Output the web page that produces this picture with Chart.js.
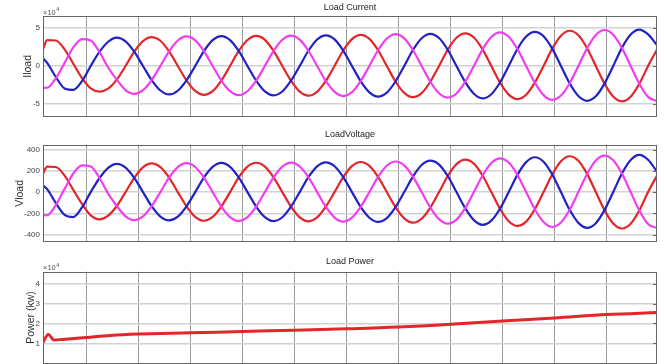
<!DOCTYPE html>
<html lang="es">
<head>
<meta charset="utf-8">
<title>Carga</title>
<script src="https://cdn.jsdelivr.net/npm/chart.js@4.4.1/dist/chart.umd.min.js"></script>
<style>
  html, body { margin: 0; padding: 0; background: #fff; }
  body { position: relative; width: 664px; height: 364px; overflow: hidden; }
  canvas { position: absolute; left: 0; }
</style>
</head>
<body>
<canvas id="graficaCorriente" width="664" height="122" style="top:0"></canvas>
<canvas id="graficaTension" width="664" height="124" style="top:122px"></canvas>
<canvas id="graficaPotencia" width="664" height="118" style="top:246px"></canvas>
<script>
// tiempo de muestreo (ms)
const tiempoMs = [
    1.6,
    2.4, 4.08, 5.75, 7.43, 9.1, 10.78, 12.45, 14.13,
    15.8, 17.48, 19.15, 20.83, 22.5, 24.18, 25.85, 27.53, 29.2, 30.88, 32.55, 34.23,
    35.9, 37.58, 39.25, 40.93, 42.6, 44.28, 45.95, 47.63, 49.3, 50.98, 52.65, 54.33,
    56.0, 57.68, 59.35, 61.03, 62.7, 64.38, 66.05, 67.73, 69.4, 71.08, 72.75, 74.43,
    76.1, 77.78, 79.45, 81.13, 82.8, 84.48, 86.15, 87.83, 89.5, 91.18, 92.85, 94.53,
    96.2, 97.88, 99.55, 101.23, 102.9, 104.58, 106.25, 107.93, 109.6, 111.28, 112.95, 114.63,
    116.3, 117.98, 119.65
];
const lineasTiempo = [10, 20, 30, 40, 50, 60, 70, 80, 90, 100, 110];

// corriente de carga, x10^4
const corrienteRoja = [
    2.2,
    3.42, 3.36, 2.2, 0.3, -1.6, -2.95, -3.4, -3.0,
    -1.8, 0, 1.89, 3.29, 3.82, 3.33, 1.93, 0, -1.9, -3.3, -3.82, -3.33,
    -1.93, 0, 1.98, 3.43, 3.97, 3.45, 1.99, 0, -1.95, -3.39, -3.92, -3.41,
    -1.98, 0, 2.04, 3.54, 4.1, 3.57, 2.08, 0, -2.05, -3.56, -4.12, -3.59,
    -2.08, 0, 2.14, 3.72, 4.3, 3.76, 2.19, 0, -2.18, -3.78, -4.37, -3.8,
    -2.2, 0, 2.29, 3.99, 4.65, 4.05, 2.35, 0, -2.33, -4.04, -4.68, -4.06,
    -2.35, 0, 2.1
];
const corrienteAzul = [
    1.0,
    0.4, -1.47, -2.97, -3.16, -2.0, 0, 1.85, 3.2,
    3.75, 3.26, 1.89, 0, -1.86, -3.24, -3.76, -3.27, -1.9, 0, 1.96, 3.41,
    3.95, 3.42, 1.98, 0, -1.94, -3.36, -3.88, -3.37, -1.95, 0, 2.01, 3.5,
    4.05, 3.52, 2.04, 0, -2.0, -3.48, -4.05, -3.52, -2.05, 0, 2.11, 3.67,
    4.25, 3.69, 2.14, 0, -2.1, -3.67, -4.28, -3.73, -2.18, 0, 2.24, 3.89,
    4.5, 3.93, 2.29, 0, -2.28, -3.97, -4.6, -4.01, -2.33, 0, 2.39, 4.15,
    4.8, 4.17, 2.8
];
const corrienteMagenta = [
    -2.9,
    -2.88, -1.6, 0.4, 2.45, 3.55, 3.37, 1.85, -0.2,
    -1.83, -3.18, -3.68, -3.2, -1.86, 0, 1.93, 3.36, 3.9, 3.39, 1.96, 0,
    -1.93, -3.33, -3.86, -3.34, -1.94, 0, 1.99, 3.46, 4.0, 3.47, 2.01, 0,
    -1.98, -3.43, -3.97, -3.46, -2.0, 0, 2.08, 3.61, 4.2, 3.65, 2.11, 0,
    -2.08, -3.6, -4.17, -3.63, -2.1, 0, 2.19, 3.82, 4.45, 3.86, 2.24, 0,
    -2.2, -3.85, -4.48, -3.91, -2.28, 0, 2.35, 4.1, 4.75, 4.12, 2.39, 0,
    -2.35, -4.08, -4.65
];

// tension de carga (V)
const tensionRoja = [
    173,
    240, 236, 155, 20, -112, -220, -257, -222,
    -131, 0, 134, 233, 270, 234, 136, 0, -134, -233, -270, -234,
    -136, 0, 138, 239, 276, 239, 139, 0, -137, -238, -275, -239,
    -138, 0, 141, 244, 283, 246, 143, 0, -142, -248, -288, -251,
    -146, 0, 151, 263, 306, 268, 156, 0, -157, -274, -319, -278,
    -162, 0, 166, 290, 337, 294, 171, 0, -170, -296, -343, -298,
    -173, 0, 150
];
const tensionAzul = [
    63,
    28, -105, -215, -235, -145, 0, 130, 228,
    266, 231, 134, 0, -133, -231, -267, -232, -134, 0, 137, 237,
    275, 238, 138, 0, -136, -236, -273, -237, -137, 0, 140, 242,
    280, 243, 141, 0, -140, -242, -281, -245, -142, 0, 146, 255,
    296, 259, 151, 0, -151, -264, -308, -269, -157, 0, 162, 282,
    328, 286, 166, 0, -167, -290, -337, -293, -170, 0, 174, 302,
    350, 304, 195
];
const tensionMagenta = [
    -219,
    -218, -120, 30, 175, 252, 240, 135, -15,
    -131, -228, -264, -229, -133, 0, 136, 235, 272, 236, 137, 0,
    -136, -235, -272, -236, -136, 0, 139, 240, 278, 241, 140, 0,
    -138, -240, -278, -241, -140, 0, 143, 248, 288, 251, 146, 0,
    -146, -255, -297, -259, -151, 0, 156, 273, 318, 278, 162, 0,
    -162, -282, -329, -287, -167, 0, 171, 297, 344, 299, 174, 0,
    -173, -301, -338
];

// potencia de carga, x10^4 kW
const tiempoPotencia = [1.6, 2.6, 3.7, 5.4, 10, 14.5, 20, 30, 40, 50, 60, 70, 80, 90, 100, 110, 119.7];
const potencia = [1.05, 1.45, 1.17, 1.2, 1.3, 1.4, 1.47, 1.53, 1.6, 1.66, 1.73, 1.82, 1.96, 2.13, 2.28, 2.45, 2.55];

const marcasCorriente = [-5, 0, 5];
const marcasTension = [-400, -200, 0, 200, 400];
const marcasPotencia = [1, 2, 3, 4];

const ROJO = "#e2262a";
const AZUL = "#2222c4";
const MAGENTA = "#f03ef0";
const FUENTE = '"Liberation Sans", Arial, sans-serif';

function puntos(tiempos, valores) {
    return tiempos.map((t, i) => ({ x: t, y: valores[i] }));
}

// caja, titulo, etiqueta del eje y exponente de cada panel
const marcoPanel = {
    id: "marcoPanel",
    afterDraw(chart, args, o) {
        const ctx = chart.ctx;
        const a = chart.chartArea;
        const ejeY = chart.scales.y;
        ctx.save();

        ctx.strokeStyle = "#666";
        ctx.lineWidth = 1;
        ctx.strokeRect(Math.round(a.left) + 0.5, Math.round(a.top) + 0.5,
            Math.round(a.right - a.left) - 1, Math.round(a.bottom - a.top) - 1);

        // marcas hacia dentro en el borde derecho
        ctx.beginPath();
        ejeY.ticks.forEach(t => {
            const py = Math.round(ejeY.getPixelForValue(t.value)) + 0.5;
            ctx.moveTo(a.right - 4, py);
            ctx.lineTo(a.right, py);
        });
        ctx.stroke();

        ctx.fillStyle = "#222";
        ctx.font = "9px " + FUENTE;
        ctx.textAlign = "center";
        ctx.textBaseline = "middle";
        ctx.fillText(o.titulo, (a.left + a.right) / 2, o.tituloY);

        ctx.save();
        ctx.translate(o.etiquetaX, (a.top + a.bottom) / 2);
        ctx.rotate(-Math.PI / 2);
        ctx.fillStyle = "#333";
        ctx.font = "10.5px " + FUENTE;
        ctx.fillText(o.etiqueta, 0, 0);
        ctx.restore();

        if (o.exponente) {
            ctx.fillStyle = "#555";
            ctx.textAlign = "left";
            ctx.textBaseline = "alphabetic";
            ctx.font = "7.5px " + FUENTE;
            const base = "\u00d710";
            const yBase = a.top - 1.5;
            ctx.fillText(base, a.left, yBase);
            const ancho = ctx.measureText(base).width;
            ctx.font = "5.5px " + FUENTE;
            ctx.fillText(o.exponente, a.left + ancho + 0.5, yBase - 3.5);
        }
        ctx.restore();
    }
};

function opciones(cfg) {
    return {
        responsive: false,
        animation: false,
        events: [],
        layout: { padding: { top: cfg.arriba, bottom: cfg.abajo, left: 0, right: 7 } },
        elements: {
            point: { radius: 0 },
            line: { cubicInterpolationMode: "monotone", borderJoinStyle: "round" }
        },
        plugins: {
            legend: { display: false },
            tooltip: { enabled: false },
            marcoPanel: cfg.marco
        },
        scales: {
            x: {
                type: "linear",
                min: 1.6,
                max: 119.7,
                afterBuildTicks: s => { s.ticks = lineasTiempo.map(v => ({ value: v })); },
                afterFit: s => { s.height = 0; s.paddingLeft = 0; s.paddingRight = 0; },
                ticks: { display: false },
                grid: { color: "#9a9a9a", lineWidth: 1, drawTicks: false },
                border: { display: false }
            },
            y: {
                min: cfg.min,
                max: cfg.max,
                afterBuildTicks: s => { s.ticks = cfg.marcas.map(v => ({ value: v })); },
                afterFit: s => { s.width = 43; s.paddingTop = 0; s.paddingBottom = 0; },
                ticks: { color: "#444", padding: 3, font: { family: FUENTE, size: 8 } },
                grid: { color: "#d2d2d2", lineWidth: 1.5, drawTicks: false },
                border: { display: false }
            }
        }
    };
}

function serie(datos, color, ancho) {
    return {
        data: datos,
        borderColor: color,
        borderWidth: ancho,
        fill: false,
        clip: 0
    };
}

new Chart(document.getElementById("graficaCorriente"), {
    type: "line",
    data: {
        datasets: [
            serie(puntos(tiempoMs, corrienteMagenta), MAGENTA, 2.2),
            serie(puntos(tiempoMs, corrienteAzul), AZUL, 2.2),
            serie(puntos(tiempoMs, corrienteRoja), ROJO, 2.2)
        ]
    },
    options: opciones({
        arriba: 16, abajo: 5.3, min: -6.7, max: 6.6, marcas: marcasCorriente,
        marco: { titulo: "Load Current", tituloY: 8, etiqueta: "Iload", etiquetaX: 28.5, exponente: "4" }
    }),
    plugins: [marcoPanel]
});

new Chart(document.getElementById("graficaTension"), {
    type: "line",
    data: {
        datasets: [
            serie(puntos(tiempoMs, tensionMagenta), MAGENTA, 2.2),
            serie(puntos(tiempoMs, tensionAzul), AZUL, 2.2),
            serie(puntos(tiempoMs, tensionRoja), ROJO, 2.2)
        ]
    },
    options: opciones({
        arriba: 22.8, abajo: 4, min: -470, max: 445, marcas: marcasTension,
        marco: { titulo: "LoadVoltage", tituloY: 12.5, etiqueta: "Vload", etiquetaX: 20.5 }
    }),
    plugins: [marcoPanel]
});

new Chart(document.getElementById("graficaPotencia"), {
    type: "line",
    data: {
        datasets: [serie(puntos(tiempoPotencia, potencia), ROJO, 3)]
    },
    options: opciones({
        arriba: 25.7, abajo: 0.7, min: 0, max: 4.6, marcas: marcasPotencia,
        marco: { titulo: "Load Power", tituloY: 16, etiqueta: "Power (kw)", etiquetaX: 31.5, exponente: "4" }
    }),
    plugins: [marcoPanel]
});
</script>
</body>
</html>
